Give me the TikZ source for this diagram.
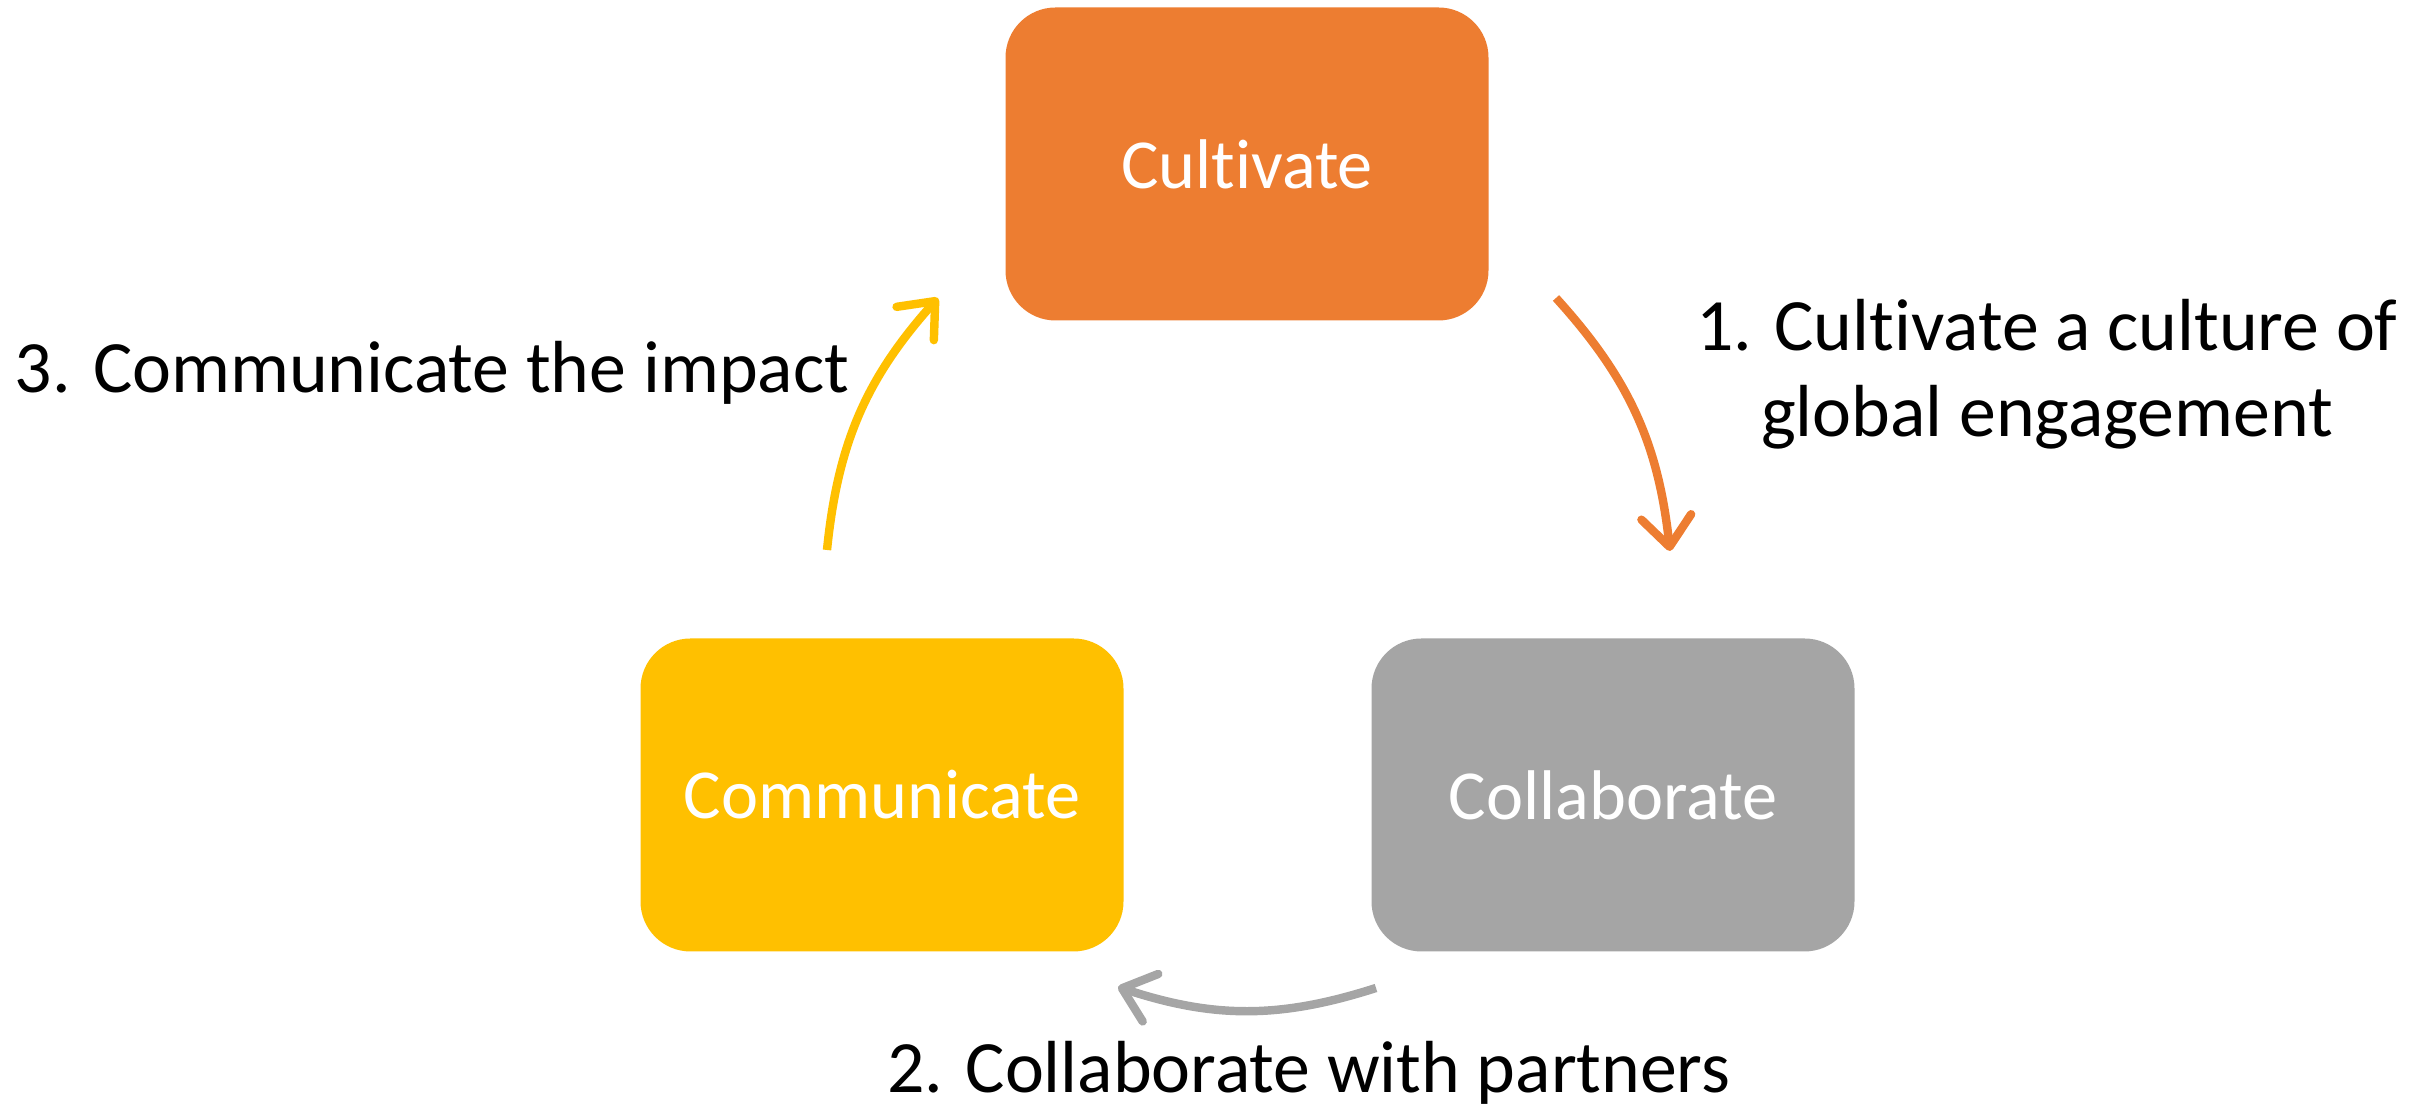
\documentclass[tikz,border=0pt]{standalone}
\usepackage{fontspec}
\setmainfont{Carlito}[Ligatures=NoCommon]
\usepackage{tikz}
\usetikzlibrary{arrows.meta}
\definecolor{cultorange}{HTML}{ED7D31}
\definecolor{collgray}{HTML}{A5A5A5}
\definecolor{commyellow}{HTML}{FFC000}
\tikzset{
	stagebox/.style={rounded corners=0.5cm,minimum width=4.83cm,minimum height=3.13cm,inner sep=0pt,text=white,font=\fontsize{20}{24}\selectfont},
	cyclearrow/.style={line width=2.4pt,-{Straight Barb[length=3mm,width=5mm,round]},bend left=18},
	steplabel/.style={anchor=base,align=center,font=\fontsize{21}{24.7}\selectfont}
}

\begin{document}
\begin{tikzpicture}
			\useasboundingbox (0,0) rectangle (24.32,11.15);
			\node[stagebox,fill=cultorange] (cult) at (12.47,9.51) {Cultivate};
			\node[stagebox,fill=commyellow] (comm) at (8.82,3.20) {Communicate};
			\node[stagebox,fill=collgray] (coll) at (16.13,3.20) {Collaborate};

			\coordinate (o1) at (15.56,8.17);
			\coordinate (o2) at (16.70,5.64);
			\coordinate (g1) at (13.76,1.27);
			\coordinate (g2) at (11.18,1.28);
			\coordinate (y1) at (8.27,5.65);
			\coordinate (y2) at (9.38,8.17);

			\draw[cyclearrow,cultorange] (o1) to (o2);
			\draw[cyclearrow,collgray] (g1) to (g2);
			\draw[cyclearrow,commyellow] (y1) to (y2);

			% base of a two-line node = baseline of its last line
			\node[steplabel] (lab1) at (20.47,6.78) {1. Cultivate a culture of\\global engagement};
			\node[steplabel] (lab2) at (13.09,0.22) {2. Collaborate with partners};
			\node[steplabel] (lab3) at (4.32,7.22) {3. Communicate the impact};
		\end{tikzpicture}
\end{document}
